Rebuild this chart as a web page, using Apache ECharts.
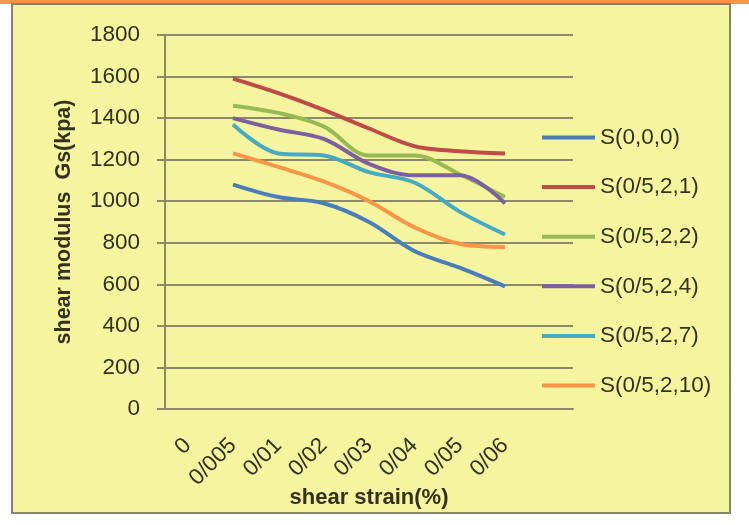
<!DOCTYPE html>
<html><head><meta charset="utf-8">
<script src="https://cdn.jsdelivr.net/npm/echarts@6/dist/echarts.min.js"></script>
<style>html,body{margin:0;padding:0;background:#fff}#c{width:749px;height:525px}</style>
</head><body><div id="c"></div>
<script>
var categories = ['0','0/005','0/01','0/02','0/03','0/04','0/05','0/06',''];
var seriesNames = ['S(0,0,0)','S(0/5,2,1)','S(0/5,2,2)','S(0/5,2,4)','S(0/5,2,7)','S(0/5,2,10)'];
var s000   = [null,1080,1020,990,900,760,680,590,null];
var s0521  = [null,1590,1520,1440,1350,1265,1240,1230,null];
var s0522  = [null,1460,1425,1360,1220,1220,1130,1020,null];
var s0524  = [null,1400,1345,1300,1180,1125,1125,990,null];
var s0527  = [null,1370,1230,1220,1140,1090,950,840,null];
var s05210 = [null,1230,1165,1095,1000,875,795,780,null];
var yTicks = [0,200,400,600,800,1000,1200,1400,1600,1800];
var colors = ['#4a7ebb','#be4b48','#98b954','#7d60a0','#46aac5','#f79646'];
var allData = [s000,s0521,s0522,s0524,s0527,s05210];

var textColor = '#33331d';
var gridColor = '#8a8a6a';
var fontFam = 'Liberation Sans, Arial, sans-serif';

var chart = echarts.init(document.getElementById('c'));
chart.setOption({
  animation:false,
  color: colors,
  graphic:[
    {type:'rect', shape:{x:0,y:0,width:749,height:4}, style:{fill:'#f79646'}, z:-10},
    {type:'rect', shape:{x:12,y:4,width:718,height:509}, style:{fill:'#f5f5a0', stroke:'#85856a', lineWidth:2}, z:-10}
  ],
  grid:{left:165, right:176, top:35, bottom:116, containLabel:false},
  legend:{
    orient:'vertical', left:542, top:126, padding:0, itemWidth:53, itemHeight:4, itemGap:26.6, icon:'rect',
    textStyle:{color:textColor, fontSize:22.5, fontFamily:fontFam, lineHeight:22, padding:[0,0,0,0]},
    data: seriesNames
  },
  xAxis:{
    type:'category', data:categories, boundaryGap:true,
    name:'shear strain(%)', nameLocation:'middle', nameGap:78, nameMoveOverlap:false,
    nameTextStyle:{color:textColor, fontSize:22, fontWeight:'bold', fontFamily:fontFam},
    axisLine:{lineStyle:{color:gridColor, width:2}},
    axisTick:{show:false},
    axisLabel:{rotate:45, color:textColor, fontSize:22.5, fontFamily:fontFam, margin:33, interval:0}
  },
  yAxis:{
    type:'value', min:0, max:1800, interval:200,
    name:'shear modulus  Gs(kpa)', nameLocation:'middle', nameGap:90, nameMoveOverlap:false,
    nameTextStyle:{color:textColor, fontSize:21.5, fontWeight:'bold', fontFamily:fontFam},
    axisLine:{show:true, lineStyle:{color:gridColor, width:2}},
    axisTick:{show:true, length:8, lineStyle:{color:gridColor, width:2}},
    splitLine:{lineStyle:{color:gridColor, width:2}},
    axisLabel:{color:textColor, fontSize:22.5, fontFamily:fontFam, margin:25,
      formatter:function(v){return yTicks.indexOf(v)>=0? String(v):'';}}
  },
  series: allData.map(function(d,i){
    return {name:seriesNames[i], type:'line', data:d, smooth:0.35, showSymbol:false,
      lineStyle:{width:4, color:colors[i]}, itemStyle:{color:colors[i]}};
  })
});
</script></body></html>
